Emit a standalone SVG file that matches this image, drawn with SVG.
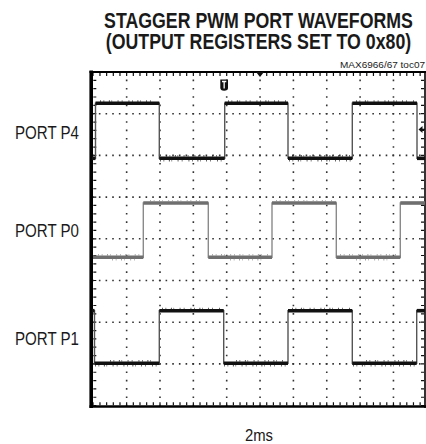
<svg xmlns="http://www.w3.org/2000/svg" width="426" height="444" viewBox="0 0 426 444">
<style>
.t{font-family:"Liberation Sans",Arial,sans-serif;fill:#1a1a1a}
.title{font-size:21.5px;font-weight:bold;text-anchor:middle}
.lab{font-size:18px}
.hg{stroke:#333;stroke-width:1.6;stroke-dasharray:1.6 5.07;stroke-dashoffset:0.8}
.vg{stroke:#333;stroke-width:1.6;stroke-dasharray:1.6 6.74;stroke-dashoffset:0.8}
.edgeK{fill:none;stroke:#555;stroke-width:1.4}
.edgeG{fill:none;stroke:#8a8a8a;stroke-width:1.4}
.hiK{stroke:#111;stroke-width:3.6}
.loK{stroke:#111;stroke-width:3.6}
.fuzzK{stroke:#222;stroke-width:1.8;stroke-dasharray:0.7 2.9 0.6 4.7 0.8 1.9 0.5 5.6 0.7 3.4 0.6 6.2}
.hiG{stroke:#6f6f6f;stroke-width:3.6}
.fuzzG{stroke:#8a8a8a;stroke-width:1.6;stroke-dasharray:0.7 3.1 0.6 4.7 0.8 2.4 0.5 5.6}
</style>

<g id="title">
<g transform="translate(258.5,0) scale(0.826,1)">
<text class="t title" x="0" y="28.3">STAGGER PWM PORT WAVEFORMS</text>
<text class="t title" x="0" y="49.5">(OUTPUT REGISTERS SET TO 0x80)</text>
</g>
<text class="t" x="340" y="68" font-size="9.5" textLength="85" lengthAdjust="spacingAndGlyphs">MAX6966/67 toc07</text>
</g>

<g id="grid">
<g id="hgrid">
<line class="hg" x1="93" y1="113.7" x2="425" y2="113.7"/>
<line class="hg" x1="93" y1="155.4" x2="425" y2="155.4"/>
<line class="hg" x1="93" y1="197.1" x2="425" y2="197.1"/>
<line class="hg" x1="93" y1="238.8" x2="425" y2="238.8"/>
<line class="hg" x1="93" y1="280.5" x2="425" y2="280.5"/>
<line class="hg" x1="93" y1="322.2" x2="425" y2="322.2"/>
<line class="hg" x1="93" y1="363.9" x2="425" y2="363.9"/>
</g>
<g id="vgrid">
<line class="vg" x1="126.65" y1="72" x2="126.65" y2="406"/>
<line class="vg" x1="160" y1="72" x2="160" y2="406"/>
<line class="vg" x1="193.35" y1="72" x2="193.35" y2="406"/>
<line class="vg" x1="226.7" y1="72" x2="226.7" y2="406"/>
<line class="vg" x1="260.05" y1="72" x2="260.05" y2="406"/>
<line class="vg" x1="293.4" y1="72" x2="293.4" y2="406"/>
<line class="vg" x1="326.75" y1="72" x2="326.75" y2="406"/>
<line class="vg" x1="360.1" y1="72" x2="360.1" y2="406"/>
<line class="vg" x1="393.45" y1="72" x2="393.45" y2="406"/>
</g>
<g id="ticks" stroke="#111">
<line x1="93.3" y1="74.5" x2="425" y2="74.5" stroke-width="3" stroke-dasharray="1.2 5.47" stroke-dashoffset="0.6"/>
<line x1="93.3" y1="403.8" x2="425" y2="403.8" stroke-width="3" stroke-dasharray="1.2 5.47" stroke-dashoffset="0.6"/>
<line x1="94.8" y1="72" x2="94.8" y2="406" stroke-width="3" stroke-dasharray="1.2 7.14" stroke-dashoffset="0.6"/>
<line x1="422.5" y1="72" x2="422.5" y2="406" stroke-width="3" stroke-dasharray="1.2 7.14" stroke-dashoffset="0.6"/>
</g>
<g id="frame" stroke="#000">
<line x1="89.5" y1="72" x2="426" y2="72" stroke-width="2"/>
<line x1="89.5" y1="406.5" x2="426" y2="406.5" stroke-width="2.6"/>
<line x1="91.2" y1="70.5" x2="91.2" y2="408" stroke-width="3.6"/>
<line x1="425" y1="71" x2="425" y2="408" stroke-width="1.6"/>
</g>
</g>

<g id="markers" fill="#111">
<polygon points="256,72 264,72 260,77"/>
<path d="M220.3,79.5 H228 V87.5 Q228,90.8 224.15,90.8 Q220.3,90.8 220.3,87.5 Z"/>
<path d="M222,81.5 H226.3 M224.15,81.5 V88.5" stroke="#fff" stroke-width="1.3" fill="none"/>
<polygon points="418.5,129.5 422.5,126 422.5,133"/>
<line x1="421" y1="129.5" x2="425" y2="129.5" stroke="#111" stroke-width="1.5"/>
</g>

<g id="port-p4">
<text class="t lab" x="15" y="139" textLength="64" lengthAdjust="spacingAndGlyphs">PORT P4</text>
<path class="edgeK" d="M92,158.3 H95.5 V103.3 H159.3 V158.3 H224.7 V103.3 H288 V158.3 H352.3 V103.3 H417 V158.3 H425"/>
<g id="p4-levels">
<line class="hiK" x1="95.5" y1="103.3" x2="159.3" y2="103.3"/>
<line class="hiK" x1="224.7" y1="103.3" x2="288" y2="103.3"/>
<line class="hiK" x1="352.3" y1="103.3" x2="417" y2="103.3"/>
<line class="loK" x1="92" y1="158.3" x2="95.5" y2="158.3"/>
<line class="loK" x1="159.3" y1="158.3" x2="224.7" y2="158.3"/>
<line class="loK" x1="288" y1="158.3" x2="352.3" y2="158.3"/>
<line class="loK" x1="417" y1="158.3" x2="425" y2="158.3"/>
<line class="fuzzK" x1="160" y1="160.7" x2="224" y2="160.7"/>
<line class="fuzzK" x1="289" y1="160.7" x2="352" y2="160.7"/>
<line class="fuzzK" x1="166" y1="155.9" x2="222" y2="155.9"/>
<line class="fuzzK" x1="292" y1="155.9" x2="350" y2="155.9"/>
<line class="fuzzK" x1="100" y1="101.2" x2="156" y2="101.2" stroke-width="1"/>
<line class="fuzzK" x1="228" y1="101.2" x2="286" y2="101.2" stroke-width="1"/>
<line class="fuzzK" x1="356" y1="101.2" x2="414" y2="101.2" stroke-width="1"/>
</g>
</g>

<g id="port-p0">
<text class="t lab" x="15" y="237" textLength="64" lengthAdjust="spacingAndGlyphs">PORT P0</text>
<path class="edgeG" d="M93,257.3 H143.3 V203 H208.3 V257.3 H272 V203 H336.3 V257.3 H400.3 V203 H425"/>
<g id="p0-levels">
<line class="hiG" x1="93" y1="257.3" x2="143.3" y2="257.3"/>
<line class="hiG" x1="143.3" y1="203" x2="208.3" y2="203"/>
<line class="hiG" x1="208.3" y1="257.3" x2="272" y2="257.3"/>
<line class="hiG" x1="272" y1="203" x2="336.3" y2="203"/>
<line class="hiG" x1="336.3" y1="257.3" x2="400.3" y2="257.3"/>
<line class="hiG" x1="400.3" y1="203" x2="425" y2="203"/>
<line class="fuzzG" x1="98" y1="254.9" x2="140" y2="254.9"/>
<line class="fuzzG" x1="212" y1="254.9" x2="268" y2="254.9"/>
<line class="fuzzG" x1="340" y1="254.9" x2="396" y2="254.9"/>
<line class="fuzzG" x1="112" y1="259.6" x2="138" y2="259.6"/>
<line class="fuzzG" x1="230" y1="259.6" x2="262" y2="259.6"/>
<line class="fuzzG" x1="356" y1="259.6" x2="392" y2="259.6"/>
<line class="fuzzG" x1="150" y1="200.8" x2="204" y2="200.8" stroke-width="1"/>
<line class="fuzzG" x1="276" y1="200.8" x2="332" y2="200.8" stroke-width="1"/>
</g>
</g>

<g id="port-p1">
<text class="t lab" x="15" y="345" textLength="64" lengthAdjust="spacingAndGlyphs">PORT P1</text>
<path class="edgeK" d="M92,310.7 H94.5 V363.3 H159.3 V310.7 H223.7 V363.3 H288 V310.7 H352.3 V363.3 H416.7 V310.7 H425"/>
<g id="p1-levels">
<line class="hiK" x1="92" y1="310.7" x2="94.5" y2="310.7"/>
<line class="hiK" x1="159.3" y1="310.7" x2="223.7" y2="310.7"/>
<line class="hiK" x1="288" y1="310.7" x2="352.3" y2="310.7"/>
<line class="hiK" x1="416.7" y1="310.7" x2="425" y2="310.7"/>
<line class="loK" x1="94.5" y1="363.3" x2="159.3" y2="363.3"/>
<line class="loK" x1="223.7" y1="363.3" x2="288" y2="363.3"/>
<line class="loK" x1="352.3" y1="363.3" x2="416.7" y2="363.3"/>
<line class="fuzzK" x1="95" y1="365.7" x2="158" y2="365.7"/>
<line class="fuzzK" x1="224" y1="365.7" x2="287" y2="365.7"/>
<line class="fuzzK" x1="353" y1="365.7" x2="416" y2="365.7"/>
<line class="fuzzK" x1="110" y1="360.9" x2="156" y2="360.9"/>
<line class="fuzzK" x1="236" y1="360.9" x2="284" y2="360.9"/>
<line class="fuzzK" x1="366" y1="360.9" x2="414" y2="360.9"/>
<line class="fuzzK" x1="162" y1="308.6" x2="220" y2="308.6" stroke-width="1"/>
<line class="fuzzK" x1="292" y1="308.6" x2="350" y2="308.6" stroke-width="1"/>
</g>
</g>

<g id="xlabel">
<text class="t" x="259" y="440.5" font-size="17" text-anchor="middle" textLength="28" lengthAdjust="spacingAndGlyphs">2ms</text>
</g>
</svg>
